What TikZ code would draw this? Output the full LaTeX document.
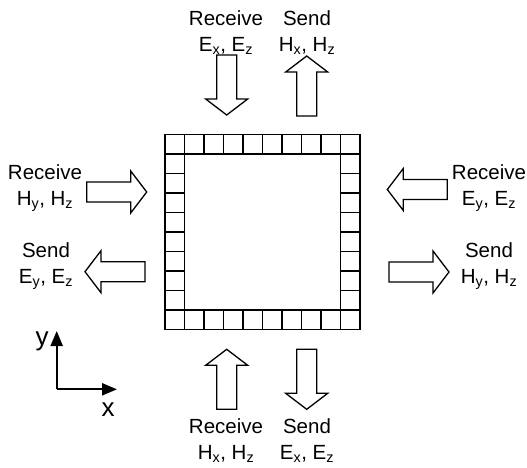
\documentclass[tikz,border=0pt]{standalone}
\usepackage{fontspec}
\setmainfont{Liberation Sans}
\usetikzlibrary{arrows.meta}
\tikzset{
  lbl/.style={align=center, inner sep=0pt, font=\fontsize{20.5}{26}\selectfont},
  axlbl/.style={inner sep=0pt, font=\fontsize{26}{30}\selectfont},
  gridline/.style={line width=1.6pt, draw=black},
  pics/fatarrow/.style={code={
    \draw[line width=1.3pt, line join=miter, fill=white]
      (0,0) -- (-16,-21) -- (-16,-10) -- (-60,-10) -- (-60,10) -- (-16,10) -- (-16,21) -- cycle;
  }},
  axis/.style={line width=2.2pt, -{Triangle[length=15pt,width=12pt]}}
}
\begin{document}
\begin{tikzpicture}[x=1pt,y=-1pt]
\useasboundingbox (0,0) rectangle (527,468);
% grid frame
\begin{scope}[shift={(165,134.5)}, x=19.5pt, y=-19.5pt]
  \draw[gridline] (0,0) rectangle (10,10);
  \draw[gridline] (1,1) rectangle (9,9);
  \foreach \k in {1,...,9}{
    \draw[gridline] (\k,0) -- (\k,1);
    \draw[gridline] (\k,9) -- (\k,10);
    \draw[gridline] (0,\k) -- (1,\k);
    \draw[gridline] (9,\k) -- (10,\k);
  }
\end{scope}
% hollow arrows
\pic[rotate=-90] at (226.7,115) {fatarrow};
\pic[rotate=90] at (306.7,56) {fatarrow};
\pic[rotate=0] at (146.7,192) {fatarrow};
\pic[rotate=180] at (85,271.7) {fatarrow};
\pic[rotate=180] at (387.3,189.5) {fatarrow};
\pic[rotate=0] at (449,272) {fatarrow};
\pic[rotate=90] at (226.7,349.3) {fatarrow};
\pic[rotate=-90] at (306.7,409.3) {fatarrow};
% labels
\node[lbl] (tr) at (226,33) {Receive\\E\textsubscript{x}, E\textsubscript{z}};
\node[lbl] (ts) at (307,33) {Send\\H\textsubscript{x}, H\textsubscript{z}};
\node[lbl] (lr) at (45,188) {Receive\\H\textsubscript{y}, H\textsubscript{z}};
\node[lbl] (ls) at (46,266) {Send\\E\textsubscript{y}, E\textsubscript{z}};
\node[lbl] (rr) at (489,188) {Receive\\E\textsubscript{y}, E\textsubscript{z}};
\node[lbl] (rs) at (489,266) {Send\\H\textsubscript{y}, H\textsubscript{z}};
\node[lbl] (br) at (226,441) {Receive\\H\textsubscript{x}, H\textsubscript{z}};
\node[lbl] (bs) at (307,441) {Send\\E\textsubscript{x}, E\textsubscript{z}};
% axes
\coordinate (O) at (56.7,389.3);
\coordinate (Yt) at (56.7,331);
\coordinate (Xt) at (117,389.3);
\draw[axis] (O) -- (Yt);
\draw[axis] (O) -- (Xt);
\node[axlbl] (ylab) at (42,341) {y};
\node[axlbl] (xlab) at (108,410) {x};
\end{tikzpicture}
\end{document}
